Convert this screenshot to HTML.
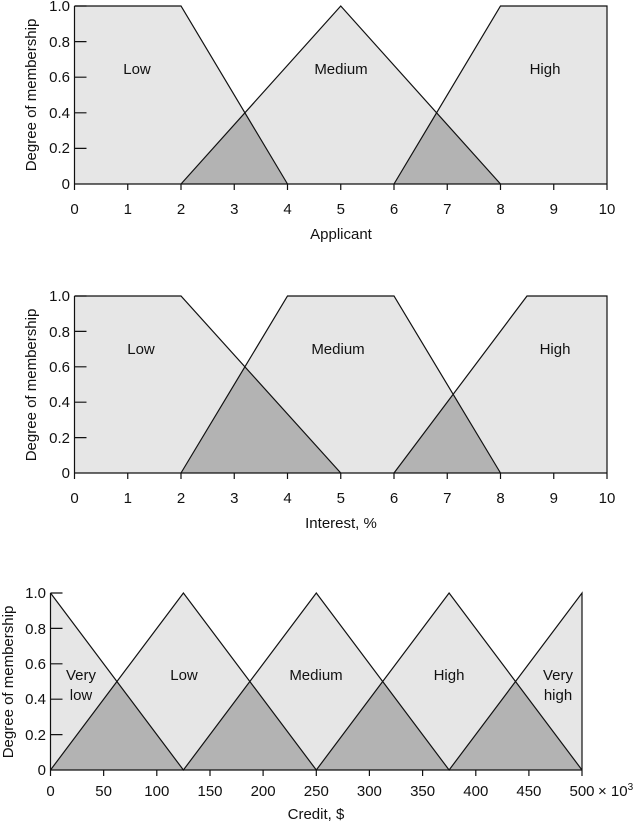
<!DOCTYPE html>
<html><head><style>
body{margin:0;background:#fff}
svg{display:block}
text{font-family:"Liberation Sans",sans-serif;font-size:15px;fill:#111}
</style></head><body>
<svg width="641" height="826" viewBox="0 0 641 826">
<g stroke="#111" stroke-width="1.2" fill="none">
<!-- chart 1 -->
<polygon points="74.5,184 74.5,6 181,6 245,112.8 340.75,6 436.6,112.8 500.5,6 607,6 607,184" fill="#e6e6e6" stroke="none"/>
<polygon points="181,184 245,112.8 287.5,184" fill="#b3b3b3" stroke="none"/>
<polygon points="394,184 436.6,112.8 500.5,184" fill="#b3b3b3" stroke="none"/>
<polyline points="74.5,6 181,6 287.5,184"/>
<polyline points="181,184 340.75,6 500.5,184"/>
<polyline points="394,184 500.5,6 607,6 607,184"/>
<line x1="74.5" y1="6" x2="74.5" y2="184"/>
<line x1="74.5" y1="184" x2="607" y2="184"/>
<path d="M74.5 6h12M74.5 41.6h12M74.5 77.2h12M74.5 112.8h12M74.5 148.4h12M74.5 184v6M127.75 184v6M181 184v6M234.25 184v6M287.5 184v6M340.75 184v6M394 184v6M447.25 184v6M500.5 184v6M553.75 184v6M607 184v6"/>
<!-- chart 2 -->
<polygon points="74.5,473 74.5,296 181,296 245,366.8 287.5,296 394,296 453.1,394.4 527,296 607,296 607,473" fill="#e6e6e6" stroke="none"/>
<polygon points="181,473 245,366.8 340.75,473" fill="#b3b3b3" stroke="none"/>
<polygon points="394,473 453.1,394.4 500.5,473" fill="#b3b3b3" stroke="none"/>
<polyline points="74.5,296 181,296 340.75,473"/>
<polyline points="181,473 287.5,296 394,296 500.5,473"/>
<polyline points="394,473 527,296 607,296 607,473"/>
<line x1="74.5" y1="296" x2="74.5" y2="473"/>
<line x1="74.5" y1="473" x2="607" y2="473"/>
<path d="M74.5 296h12M74.5 331.4h12M74.5 366.8h12M74.5 402.2h12M74.5 437.6h12M74.5 473v6M127.75 473v6M181 473v6M234.25 473v6M287.5 473v6M340.75 473v6M394 473v6M447.25 473v6M500.5 473v6M553.75 473v6M607 473v6"/>
<!-- chart 3 -->
<polygon points="50.5,770 50.5,593 116.9,681.5 183.4,593 249.8,681.5 316.3,593 382.7,681.5 449.1,593 515.6,681.5 582,593 582,770" fill="#e6e6e6" stroke="none"/>
<polygon points="50.5,770 116.9,681.5 183.4,770" fill="#b3b3b3" stroke="none"/>
<polygon points="183.4,770 249.8,681.5 316.3,770" fill="#b3b3b3" stroke="none"/>
<polygon points="316.3,770 382.7,681.5 449.1,770" fill="#b3b3b3" stroke="none"/>
<polygon points="449.1,770 515.6,681.5 582,770" fill="#b3b3b3" stroke="none"/>
<polyline points="50.5,593 183.4,770 316.3,593 449.1,770 582,593 582,770"/>
<polyline points="50.5,770 183.4,593 316.3,770 449.1,593 582,770"/>
<line x1="50.5" y1="593" x2="50.5" y2="770"/>
<line x1="50.5" y1="770" x2="582" y2="770"/>
<path d="M50.5 593h12M50.5 628.4h12M50.5 663.8h12M50.5 699.2h12M50.5 734.6h12M50.5 770v6M103.65 770v6M156.8 770v6M210 770v6M263.1 770v6M316.3 770v6M369.4 770v6M422.6 770v6M475.8 770v6M528.9 770v6M582 770v6"/>
</g>
<!-- labels chart 1 -->
<g text-anchor="middle">
<text x="137" y="74">Low</text><text x="341" y="74">Medium</text><text x="545" y="74">High</text>
<text x="74.5" y="214">0</text><text x="127.75" y="214">1</text><text x="181" y="214">2</text><text x="234.25" y="214">3</text><text x="287.5" y="214">4</text><text x="340.75" y="214">5</text><text x="394" y="214">6</text><text x="447.25" y="214">7</text><text x="500.5" y="214">8</text><text x="553.75" y="214">9</text><text x="607" y="214">10</text>
<text x="341" y="239">Applicant</text>
<text transform="translate(36,95) rotate(-90)">Degree of membership</text>
<text x="141" y="354">Low</text><text x="338" y="354">Medium</text><text x="555" y="354">High</text>
<text x="74.5" y="503">0</text><text x="127.75" y="503">1</text><text x="181" y="503">2</text><text x="234.25" y="503">3</text><text x="287.5" y="503">4</text><text x="340.75" y="503">5</text><text x="394" y="503">6</text><text x="447.25" y="503">7</text><text x="500.5" y="503">8</text><text x="553.75" y="503">9</text><text x="607" y="503">10</text>
<text x="341" y="528">Interest, %</text>
<text transform="translate(36,385) rotate(-90)">Degree of membership</text>
<text x="81" y="680">Very</text><text x="81" y="700">low</text><text x="184" y="680">Low</text><text x="316" y="680">Medium</text><text x="449" y="680">High</text><text x="558" y="680">Very</text><text x="558" y="700">high</text>
<text x="50.5" y="796">0</text><text x="103.65" y="796">50</text><text x="156.8" y="796">100</text><text x="210" y="796">150</text><text x="263.1" y="796">200</text><text x="316.3" y="796">250</text><text x="369.4" y="796">300</text><text x="422.6" y="796">350</text><text x="475.8" y="796">400</text><text x="528.9" y="796">450</text><text x="582" y="796">500</text>
<text x="316" y="819">Credit, $</text>
<text transform="translate(13,682) rotate(-90)">Degree of membership</text>
</g>
<text x="598" y="796">× 10<tspan dy="-6" font-size="10">3</tspan></text>
<g text-anchor="end">
<text x="70" y="11">1.0</text><text x="70" y="47">0.8</text><text x="70" y="82">0.6</text><text x="70" y="118">0.4</text><text x="70" y="153">0.2</text><text x="70" y="189">0</text>
<text x="70" y="301">1.0</text><text x="70" y="337">0.8</text><text x="70" y="372">0.6</text><text x="70" y="407">0.4</text><text x="70" y="443">0.2</text><text x="70" y="478">0</text>
<text x="46" y="598">1.0</text><text x="46" y="634">0.8</text><text x="46" y="669">0.6</text><text x="46" y="704">0.4</text><text x="46" y="740">0.2</text><text x="46" y="775">0</text>
</g>
</svg>
</body></html>
